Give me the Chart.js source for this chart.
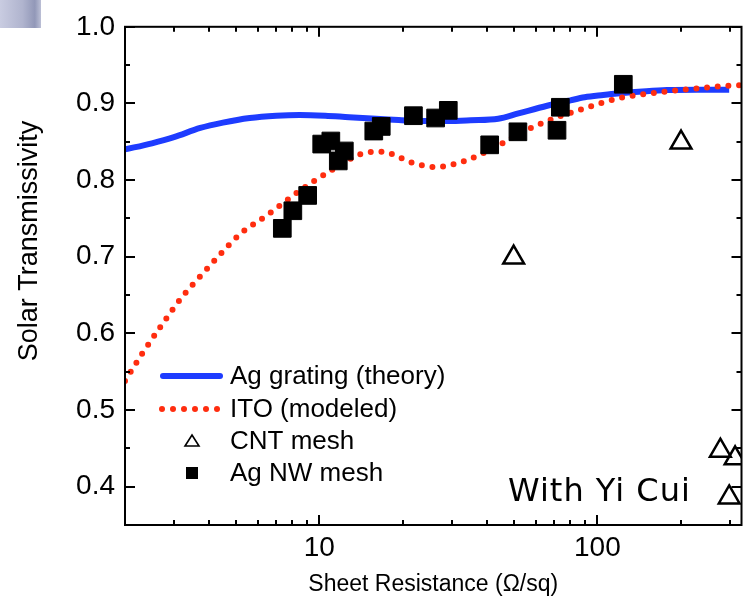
<!DOCTYPE html>
<html>
<head>
<meta charset="utf-8">
<script src="https://cdn.jsdelivr.net/npm/chart.js@4.4.1/dist/chart.umd.min.js"></script>
<style>
  body { margin: 0; background: #fff; }
  #wrap { position: relative; width: 756px; height: 603px; }
  #corner { position: absolute; left: 0; top: 0; width: 41px; height: 28px;
    background: linear-gradient(to right, #c9cce1, #b0b4ce 55%, #9298b8 85%, #bcc0d6); }
</style>
</head>
<body>
<div id="wrap">
  <canvas id="chart" width="756" height="603"></canvas>
  <div id="corner"></div>
</div>
<script>
// Ag grating (theory) - solid blue curve
const gratingX = [2, 2.5, 3, 3.73, 4.5, 5.62, 7, 8.5, 10.5, 12.8, 16, 19.3, 23, 29, 35, 44, 52, 66, 80, 90, 105, 118, 150, 178, 230, 298];
const gratingY = [0.840, 0.848, 0.856, 0.868, 0.875, 0.881, 0.884, 0.885, 0.884, 0.882, 0.880, 0.8785, 0.877, 0.877, 0.878, 0.880, 0.887, 0.897, 0.904, 0.908, 0.911, 0.913, 0.916, 0.9175, 0.918, 0.918];

// ITO (modeled) - red dotted curve
const itoX = [2, 2.3, 2.7, 3.2, 3.7, 4.4, 5.2, 6.45, 8.5, 11.2, 14.1, 16.8, 21.5, 26, 33.4, 44, 52, 66, 87, 124, 173, 268, 330];
const itoY = [0.538, 0.573, 0.610, 0.647, 0.673, 0.703, 0.730, 0.7535, 0.786, 0.814, 0.834, 0.837, 0.823, 0.817, 0.825, 0.845, 0.860, 0.877, 0.892, 0.908, 0.915, 0.922, 0.924];

// CNT mesh - open triangles
const cntX = [50, 200, 277, 313, 298];
const cntY = [0.699, 0.849, 0.447, 0.437, 0.386];

// Ag NW mesh - filled squares
const agnwX = [7.36, 8.03, 9.08, 10.2, 11.0, 12.3, 11.7, 15.7, 16.7, 21.8, 26.2, 29.1, 41.0, 51.8, 71.6, 73.6, 124];
const agnwY = [0.737, 0.760, 0.780, 0.847, 0.851, 0.838, 0.825, 0.864, 0.870, 0.884, 0.881, 0.891, 0.846, 0.863, 0.865, 0.895, 0.925];

// tick values
const xMajor = [10, 100];
const xMinor = [3, 4, 5, 6, 7, 8, 9, 20, 30, 40, 50, 60, 70, 80, 90, 200, 300];
const yMajor = [0.4, 0.5, 0.6, 0.7, 0.8, 0.9, 1.0];
const yMinor = [0.45, 0.55, 0.65, 0.75, 0.85, 0.95];

const BLUE = '#1e3cff';
const RED = '#ff2d0f';
const FONT = '"Liberation Sans", Arial, sans-serif';

const pts = (xs, ys) => xs.map((x, i) => ({ x: x, y: ys[i] }));

// frame, inward ticks, legend and note
const decor = {
  id: 'decor',
  afterDatasetsDraw(chart) {
    const { ctx, chartArea: a, scales: { x, y } } = chart;
    ctx.save();
    ctx.strokeStyle = '#000';
    ctx.lineWidth = 2;
    ctx.strokeRect(a.left, a.top, a.right - a.left, a.bottom - a.top);
    ctx.beginPath();
    const yTicks = (vals, len) => vals.forEach(v => {
      const p = Math.round(y.getPixelForValue(v));
      ctx.moveTo(a.left, p); ctx.lineTo(a.left + len, p);
      ctx.moveTo(a.right, p); ctx.lineTo(a.right - len, p);
    });
    const xTicks = (vals, len) => vals.forEach(v => {
      const p = Math.round(x.getPixelForValue(v));
      ctx.moveTo(p, a.bottom); ctx.lineTo(p, a.bottom - len);
      ctx.moveTo(p, a.top); ctx.lineTo(p, a.top + len);
    });
    yTicks(yMajor, 10); yTicks(yMinor, 5);
    xTicks(xMajor, 10); xTicks(xMinor, 5);
    ctx.stroke();
    ctx.restore();
  },
  afterDraw(chart) {
    const ctx = chart.ctx;
    const ds = chart.data.datasets;
    ctx.save();
    // y axis title
    ctx.fillStyle = '#000';
    ctx.font = '27px ' + FONT;
    ctx.textAlign = 'center';
    ctx.textBaseline = 'middle';
    ctx.translate(30, 241);
    ctx.rotate(-Math.PI / 2);
    ctx.fillText('Solar Transmissivity', 0, 0);
    ctx.setTransform(1, 0, 0, 1, 0, 0);

    // legend
    const rows = [376, 409, 441, 473];
    ctx.font = '26px ' + FONT;
    ctx.textAlign = 'left';
    ds.forEach((d, i) => {
      const cy = rows[i];
      if (d.kind === 'solid') {
        ctx.strokeStyle = d.borderColor;
        ctx.lineWidth = 6;
        ctx.lineCap = 'round';
        ctx.beginPath(); ctx.moveTo(163, cy); ctx.lineTo(220, cy); ctx.stroke();
      } else if (d.kind === 'dots') {
        ctx.fillStyle = d.borderColor;
        for (let k = 0; k < 6; k++) {
          ctx.beginPath(); ctx.arc(162 + k * 11, cy, 3, 0, Math.PI * 2); ctx.fill();
        }
      } else if (d.kind === 'tri') {
        ctx.strokeStyle = '#000';
        ctx.lineWidth = 1.6;
        ctx.beginPath();
        ctx.moveTo(192, cy - 6); ctx.lineTo(199, cy + 5); ctx.lineTo(185, cy + 5); ctx.closePath();
        ctx.stroke();
      } else {
        ctx.fillStyle = '#000';
        ctx.fillRect(186, cy - 6, 12, 12);
      }
      ctx.fillStyle = '#000';
      ctx.fillText(d.label, 230, cy + 1);
    });

    // note
    ctx.font = '32px "DejaVu Sans", sans-serif';
    ctx.letterSpacing = '1px';
    ctx.textBaseline = 'alphabetic';
    ctx.fillText('With Yi Cui', 508, 501);
    ctx.restore();
  }
};

Chart.defaults.font.family = FONT;
Chart.defaults.color = '#000';

new Chart(document.getElementById('chart'), {
  type: 'scatter',
  data: {
    datasets: [
      {
        label: 'Ag grating (theory)', kind: 'solid', order: 4,
        data: pts(gratingX, gratingY),
        showLine: true, borderColor: BLUE, borderWidth: 6,
        cubicInterpolationMode: 'monotone', pointRadius: 0
      },
      {
        label: 'ITO (modeled)', kind: 'dots', order: 3,
        data: pts(itoX, itoY),
        showLine: true, borderColor: RED, borderWidth: 6,
        borderDash: [0, 10.7], borderCapStyle: 'round',
        cubicInterpolationMode: 'monotone', pointRadius: 0
      },
      {
        label: 'CNT mesh', kind: 'tri', order: 2,
        data: pts(cntX, cntY),
        pointStyle: 'triangle', pointRadius: 12,
        pointBackgroundColor: 'rgba(255,255,255,0)', pointBorderColor: '#000', pointBorderWidth: 2.5,
        clip: 0
      },
      {
        label: 'Ag NW mesh', kind: 'sq', order: 1,
        data: pts(agnwX, agnwY),
        pointStyle: 'rect', pointRadius: 12.5,
        pointBackgroundColor: '#000', pointBorderColor: '#000', pointBorderWidth: 1
      }
    ]
  },
  options: {
    responsive: false,
    animation: false,
    layout: { padding: { left: 0, right: 3, top: 24, bottom: 0 } },
    plugins: { legend: { display: false }, tooltip: { enabled: false } },
    scales: {
      x: {
        type: 'logarithmic', min: 2, max: 330,
        grid: { display: false, drawTicks: false },
        border: { display: false },
        afterBuildTicks: s => { s.ticks = xMajor.map(v => ({ value: v })); },
        afterFit: s => { s.height = 78; },
        ticks: { padding: 6, font: { size: 28 }, autoSkip: false, maxRotation: 0,
                 callback: v => String(v) },
        title: { display: true, text: 'Sheet Resistance (Ω/sq)', font: { size: 23 },
                 padding: { top: 0, bottom: 5 } }
      },
      y: {
        min: 0.35, max: 1.0,
        grid: { display: false, drawTicks: false },
        border: { display: false },
        afterBuildTicks: s => { s.ticks = yMajor.map(v => ({ value: v })); },
        afterFit: s => { s.width = 125; },
        ticks: { padding: 10, font: { size: 28 }, callback: v => v.toFixed(1) }
      }
    }
  },
  plugins: [decor]
});
</script>
</body>
</html>
